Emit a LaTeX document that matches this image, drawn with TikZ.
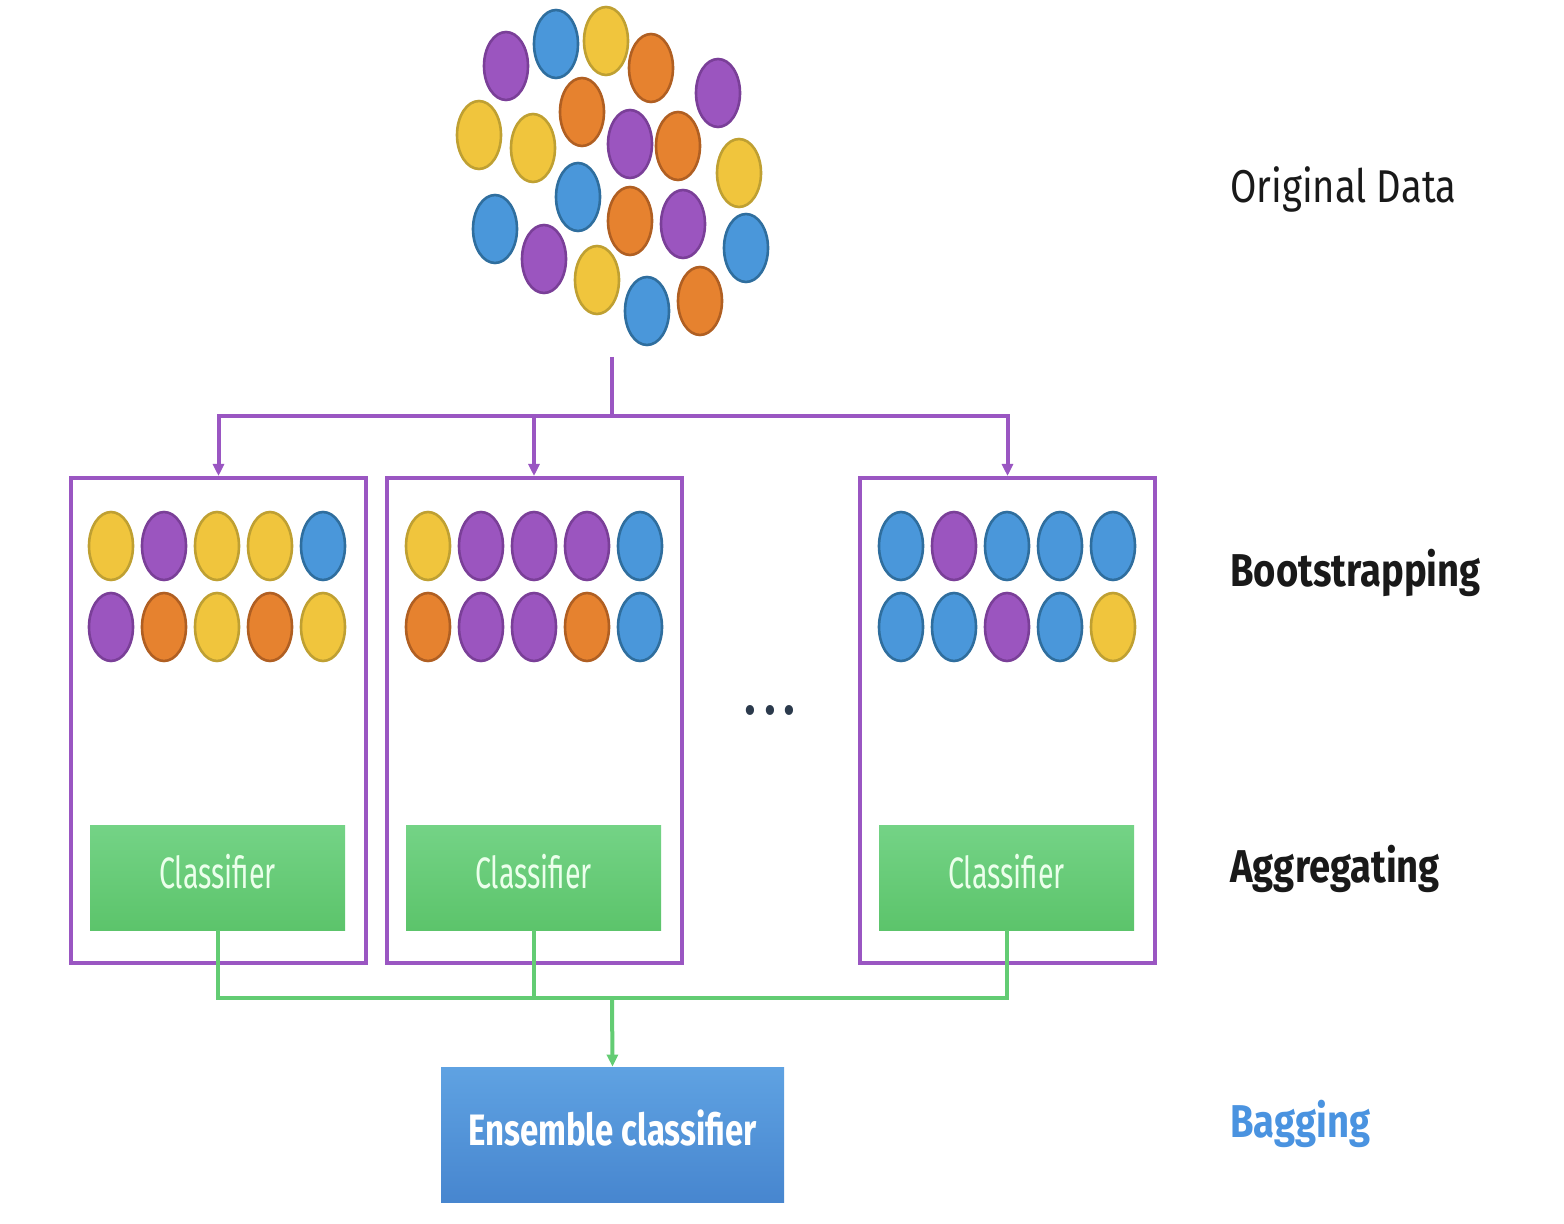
\documentclass[tikz,border=0pt]{standalone}
\usepackage{fontspec}
\setmainfont{Fira Sans}
\newfontfamily\labelfont[FakeStretch=0.83]{Fira Sans}
\newfontfamily\clsfont[FakeStretch=0.65]{Fira Sans}
\newfontfamily\ensfont[FakeStretch=0.75]{Fira Sans}
\usetikzlibrary{arrows.meta}

\definecolor{cpurple}{HTML}{9B55BF}
\definecolor{cpurpled}{HTML}{7A3F98}
\definecolor{cblue}{HTML}{4A97DA}
\definecolor{cblued}{HTML}{2F6E9E}
\definecolor{cyellow}{HTML}{F0C53D}
\definecolor{cyellowd}{HTML}{BFA032}
\definecolor{corange}{HTML}{E6822F}
\definecolor{coranged}{HTML}{B05F22}
\definecolor{lpurple}{HTML}{9A56C2}
\definecolor{lgreen}{HTML}{63CC73}
\definecolor{gtop}{HTML}{74D386}
\definecolor{gbot}{HTML}{5CC46B}
\definecolor{btop}{HTML}{5FA2E2}
\definecolor{bbot}{HTML}{4786CF}
\definecolor{baglab}{HTML}{4A93E0}
\definecolor{dotnavy}{HTML}{2B3A4C}

\begin{document}
\begin{tikzpicture}[x=0.5pt,y=0.5pt,yscale=-1,
  P/.style={fill=cpurple,draw=cpurpled,line width=1.3pt},
  B/.style={fill=cblue,draw=cblued,line width=1.3pt},
  Y/.style={fill=cyellow,draw=cyellowd,line width=1.3pt},
  O/.style={fill=corange,draw=coranged,line width=1.3pt},
  bag/.style={draw=lpurple,line width=2pt,minimum width=147.5pt,minimum height=242.5pt,inner sep=0pt},
  clsbox/.style={top color=gtop,bottom color=gbot,minimum width=127.5pt,minimum height=52.5pt,inner sep=0pt},
  clstext/.style={anchor=base,inner sep=0pt,text=green!8!white,font=\clsfont\fontsize{22}{26}\selectfont},
  purplearr/.style={draw=lpurple,line width=2pt,-{Triangle[length=6pt,width=5.5pt]}},
  greenarr/.style={draw=lgreen,line width=2pt,-{Triangle[length=6pt,width=5.5pt]}},
  lab/.style={anchor=base west,inner sep=0pt,text=black!90}]
\useasboundingbox (0,0) rectangle (1564,1224);

%Shape: Original data circles
\draw[P] (506,66) ellipse [x radius=22,y radius=34];
\draw[B] (556,44) ellipse [x radius=22,y radius=34];
\draw[Y] (606,41) ellipse [x radius=22,y radius=34];
\draw[O] (651,68) ellipse [x radius=22,y radius=34];
\draw[P] (718,93) ellipse [x radius=22,y radius=34];
\draw[O] (582,112) ellipse [x radius=22,y radius=34];
\draw[Y] (479,135) ellipse [x radius=22,y radius=34];
\draw[Y] (533,148) ellipse [x radius=22,y radius=34];
\draw[P] (630,144) ellipse [x radius=22,y radius=34];
\draw[O] (678,146) ellipse [x radius=22,y radius=34];
\draw[Y] (739,173) ellipse [x radius=22,y radius=34];
\draw[B] (578,197) ellipse [x radius=22,y radius=34];
\draw[O] (630,221) ellipse [x radius=22,y radius=34];
\draw[P] (683,224) ellipse [x radius=22,y radius=34];
\draw[B] (495,229) ellipse [x radius=22,y radius=34];
\draw[P] (544,259) ellipse [x radius=22,y radius=34];
\draw[Y] (597,280) ellipse [x radius=22,y radius=34];
\draw[B] (746,248) ellipse [x radius=22,y radius=34];
\draw[B] (647,311) ellipse [x radius=22,y radius=34];
\draw[O] (700,301) ellipse [x radius=22,y radius=34];

%Shape: Bootstrap boxes
\node[bag] (bag1) at (218.5,720.5) {};
\node[bag] (bag2) at (534,720.5) {};
\node[bag] (bag3) at (1007.5,720.5) {};

%Shape: Sample circles, box 1
\draw[Y] (111,546) ellipse [x radius=22,y radius=34];
\draw[P] (164,546) ellipse [x radius=22,y radius=34];
\draw[Y] (217,546) ellipse [x radius=22,y radius=34];
\draw[Y] (270,546) ellipse [x radius=22,y radius=34];
\draw[B] (323,546) ellipse [x radius=22,y radius=34];
\draw[P] (111,627) ellipse [x radius=22,y radius=34];
\draw[O] (164,627) ellipse [x radius=22,y radius=34];
\draw[Y] (217,627) ellipse [x radius=22,y radius=34];
\draw[O] (270,627) ellipse [x radius=22,y radius=34];
\draw[Y] (323,627) ellipse [x radius=22,y radius=34];
%Shape: Sample circles, box 2
\draw[Y] (428,546) ellipse [x radius=22,y radius=34];
\draw[P] (481,546) ellipse [x radius=22,y radius=34];
\draw[P] (534,546) ellipse [x radius=22,y radius=34];
\draw[P] (587,546) ellipse [x radius=22,y radius=34];
\draw[B] (640,546) ellipse [x radius=22,y radius=34];
\draw[O] (428,627) ellipse [x radius=22,y radius=34];
\draw[P] (481,627) ellipse [x radius=22,y radius=34];
\draw[P] (534,627) ellipse [x radius=22,y radius=34];
\draw[O] (587,627) ellipse [x radius=22,y radius=34];
\draw[B] (640,627) ellipse [x radius=22,y radius=34];
%Shape: Sample circles, box 3
\draw[B] (901,546) ellipse [x radius=22,y radius=34];
\draw[P] (954,546) ellipse [x radius=22,y radius=34];
\draw[B] (1007,546) ellipse [x radius=22,y radius=34];
\draw[B] (1060,546) ellipse [x radius=22,y radius=34];
\draw[B] (1113,546) ellipse [x radius=22,y radius=34];
\draw[B] (901,627) ellipse [x radius=22,y radius=34];
\draw[B] (954,627) ellipse [x radius=22,y radius=34];
\draw[P] (1007,627) ellipse [x radius=22,y radius=34];
\draw[B] (1060,627) ellipse [x radius=22,y radius=34];
\draw[Y] (1113,627) ellipse [x radius=22,y radius=34];

%Shape: Classifiers
\node[clsbox] (cls1) at (217.5,877.5) {};
\node[clsbox] (cls2) at (533.5,877.5) {};
\node[clsbox] (cls3) at (1006.5,877.5) {};
\node[clstext] at (217.5,888) {Classifier};
\node[clstext] at (533.5,888) {Classifier};
\node[clstext] at (1006.5,888) {Classifier};

%Shape: Ensemble
\node[top color=btop,bottom color=bbot,minimum width=171.5pt,minimum height=67.5pt,inner sep=0pt] (ens) at (612.5,1134.5) {};
\node[anchor=base,inner sep=0pt,text=white,font=\ensfont\bfseries\fontsize{22}{26}\selectfont] at (612.5,1145) {Ensemble classifier};

%Straight Lines: sampling
\coordinate (src) at (612,357);
\coordinate (split) at (612,416);
\draw[draw=lpurple,line width=2pt] (src) -- (split);
\draw[purplearr] (split) -| (bag1.north);
\draw[purplearr] (split) -| (bag2.north);
\draw[purplearr] (split) -| (bag3.north);

%Straight Lines: voting
\coordinate (merge) at (612,998);
\draw[draw=lgreen,line width=2pt] (cls1.south) |- (merge);
\draw[draw=lgreen,line width=2pt] (cls2.south) |- (merge);
\draw[draw=lgreen,line width=2pt] (cls3.south) |- (merge);
\draw[greenarr] (merge) -- (ens.north);

% Text Node
\node[inner sep=0pt,text=dotnavy,font=\labelfont\fontsize{22}{24}\selectfont] (more) at (770,716) {•\,•\,•};
% Text Node
\node[lab,font=\labelfont\fontsize{23}{27}\selectfont] (orig) at (1230,203) {Original Data};
% Text Node
\node[lab,font=\labelfont\bfseries\fontsize{23}{27}\selectfont] (boot) at (1230,587) {Bootstrapping};
% Text Node
\node[lab,font=\labelfont\bfseries\fontsize{23}{27}\selectfont] (aggr) at (1230,882) {Aggregating};
% Text Node
\node[lab,text=baglab,font=\labelfont\bfseries\fontsize{23}{27}\selectfont] (bagg) at (1230,1137) {Bagging};

\end{tikzpicture}
\end{document}
